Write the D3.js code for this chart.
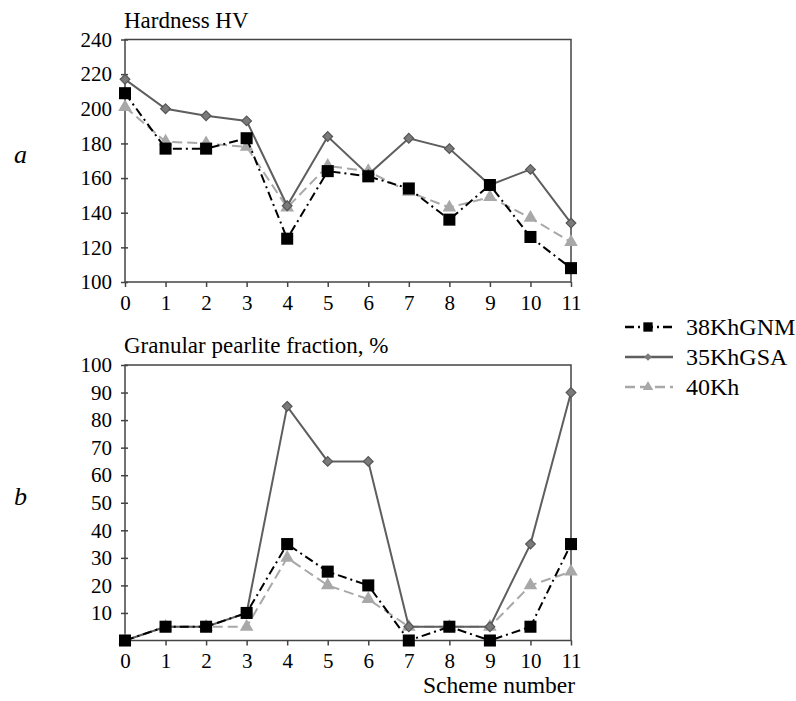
<!DOCTYPE html>
<html>
<head>
<meta charset="utf-8">
<script src="https://cdn.jsdelivr.net/npm/d3@7"></script>
<style>
  body { margin: 0; background: #fff; }
</style>
</head>
<body>
<div id="chart"></div>
<script>
  var schemes = [0, 1, 2, 3, 4, 5, 6, 7, 8, 9, 10, 11],
      seriesNames = ["38KhGNM", "35KhGSA", "40Kh"];

  // panel a: hardness HV
  var hardness38 = [209, 177, 177, 183, 125, 164, 161, 154, 136, 156, 126, 108],
      hardness35 = [217, 200, 196, 193, 144, 184, 162, 183, 177, 156, 165, 134],
      hardness40 = [201, 181, 180, 178, 143, 167, 164, 152, 143, 149, 137, 123],
      hardnessTicks = [100, 120, 140, 160, 180, 200, 220, 240];

  // panel b: granular pearlite fraction, %
  var pearlite38 = [0, 5, 5, 10, 35, 25, 20, 0, 5, 0, 5, 35],
      pearlite35 = [0, 5, 5, 10, 85, 65, 65, 5, 5, 5, 35, 90],
      pearlite40 = [0, 5, 5, 5, 30, 20, 15, 5, 5, 5, 20, 25],
      pearliteTicks = [10, 20, 30, 40, 50, 60, 70, 80, 90, 100];

  var width = 796, height = 701,
      plotLeft = 125, plotRight = 571,
      font = "'Liberation Serif'";

  var styles = {
    "38KhGNM": { stroke: "#000", dash: "9,4,2,4", marker: "square", fill: "#000", size: 145 },
    "35KhGSA": { stroke: "#5e5e5e", dash: null, marker: "diamond", fill: "#7a7a7a", size: 60 },
    "40Kh":    { stroke: "#a8a8a8", dash: "10,5", marker: "triangle", fill: "#a8a8a8", size: 80 }
  };
  var symbolTypes = { square: d3.symbolSquare, diamond: d3.symbolDiamond2, triangle: d3.symbolTriangle };

  const svg = d3.select("#chart").append("svg")
      .attr("width", width)
      .attr("height", height)
      .style("font-family", font);

  var x = d3.scaleLinear().domain([0, 11]).range([plotLeft, plotRight]);

  function drawPanel(cfg) {
    var y = d3.scaleLinear().domain(cfg.domain).range([cfg.bottom, cfg.top]);
    var g = svg.append("g");

    // frame
    g.append("rect")
      .attr("x", plotLeft).attr("y", cfg.top)
      .attr("width", plotRight - plotLeft).attr("height", cfg.bottom - cfg.top)
      .attr("fill", "none").attr("stroke", "#444").attr("stroke-width", 1.5);

    var yAxis = g.append("g")
      .attr("transform", "translate(" + plotLeft + ",0)")
      .call(d3.axisLeft(y).tickValues(cfg.ticks).tickSize(4).tickPadding(9).tickFormat(d3.format("d")));
    yAxis.select(".domain").remove();
    yAxis.selectAll(".tick line").attr("x2", 3).attr("x1", -4).attr("stroke", "#444").attr("stroke-width", 1.5);
    yAxis.selectAll(".tick text").attr("fill", "#000")
      .style("font-family", font).style("font-size", "21px");

    var xAxis = g.append("g")
      .attr("transform", "translate(0," + cfg.bottom + ")")
      .call(d3.axisBottom(x).tickValues(schemes).tickSize(5).tickPadding(8).tickFormat(d3.format("d")));
    xAxis.select(".domain").remove();
    xAxis.selectAll(".tick line").attr("stroke", "#444").attr("stroke-width", 1.5);
    xAxis.selectAll(".tick text").attr("fill", "#000")
      .style("font-family", font).style("font-size", "21px");

    g.append("text")
      .attr("x", plotLeft - 1).attr("y", cfg.top - 12)
      .style("font-size", "23px").attr("fill", "#000")
      .text(cfg.title);

    g.append("text")
      .attr("x", 14).attr("y", (cfg.top + cfg.bottom) / 2 + 2)
      .style("font-size", "26px").style("font-style", "italic").attr("fill", "#000")
      .text(cfg.letter);

    var line = d3.line().x(function(d, i) { return x(schemes[i]); }).y(function(d) { return y(d); });

    // 40Kh first, then 35KhGSA, 38KhGNM on top
    [2, 1, 0].forEach(function(k) {
      var name = seriesNames[k], s = styles[name], vals = cfg.series[k];
      g.append("path")
        .datum(vals)
        .attr("d", line)
        .attr("fill", "none")
        .attr("stroke", s.stroke)
        .attr("stroke-width", 2)
        .attr("stroke-dasharray", s.dash);
      g.selectAll(".pt" + k)
        .data(vals)
        .enter().append("path")
        .attr("transform", function(d, i) { return "translate(" + x(schemes[i]) + "," + y(d) + ")"; })
        .attr("d", d3.symbol().type(symbolTypes[s.marker]).size(s.size))
        .attr("fill", s.fill)
        .attr("stroke", name == "35KhGSA" ? "#555" : "none")
        .attr("stroke-width", 1.2);
    });
  }

  drawPanel({ top: 39.5, bottom: 282, domain: [100, 240], ticks: hardnessTicks,
              title: "Hardness HV", letter: "a", series: [hardness38, hardness35, hardness40] });
  drawPanel({ top: 365, bottom: 640.5, domain: [0, 100], ticks: pearliteTicks,
              title: "Granular pearlite fraction, %", letter: "b", series: [pearlite38, pearlite35, pearlite40] });

  svg.append("text")
    .attr("x", 575).attr("y", 693)
    .attr("text-anchor", "end")
    .style("font-size", "23.5px").attr("fill", "#000")
    .text("Scheme number");

  // legend
  var legend = svg.selectAll(".legend")
      .data(seriesNames)
      .enter().append("g")
      .attr("class", "legend")
      .attr("transform", function(d, i) { return "translate(625," + (327 + i * 30) + ")"; });

  legend.append("line")
    .attr("x1", 0).attr("x2", 48)
    .attr("stroke", function(d) { return styles[d].stroke; })
    .attr("stroke-width", 2.5)
    .attr("stroke-dasharray", function(d) { return styles[d].dash; });

  legend.append("path")
    .attr("transform", "translate(23,0)")
    .attr("d", function(d) { return d3.symbol().type(symbolTypes[styles[d].marker]).size(styles[d].size * 0.6)(); })
    .attr("fill", function(d) { return styles[d].fill; });

  legend.append("text")
    .attr("x", 61).attr("y", 8)
    .style("font-size", "24px").attr("fill", "#000")
    .text(function(d) { return d; });
</script>
</body>
</html>
